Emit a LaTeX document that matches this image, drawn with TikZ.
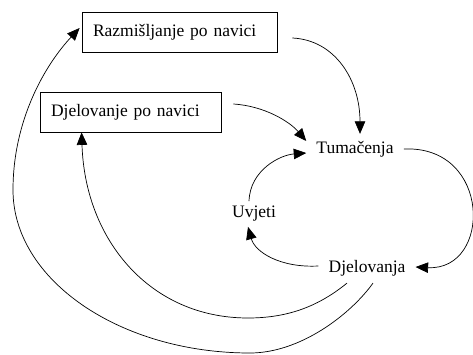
\documentclass[tikz,border=0pt]{standalone}
\usepackage{fontspec}
\setmainfont{Liberation Serif}
\usetikzlibrary{arrows.meta,calc}
\begin{document}
\begin{tikzpicture}[x=1pt,y=-1pt,
  font=\fontsize{17.5}{21}\selectfont,
  boxnode/.style={draw,line width=0.8pt,minimum height=40pt,inner xsep=11pt,align=left},
  lbl/.style={inner xsep=10pt,inner ysep=7pt},
  conn/.style={line width=0.7pt,-{Triangle[length=12.5pt,width=10.5pt]}}]
\useasboundingbox (0,0) rectangle (473,355);
\node[boxnode,text width=173pt] (r) at (179.5,32) {Razmišljanje po navici};
\node[boxnode,text width=159pt] (d) at (130.5,112) {Djelovanje po navici};
\node[lbl] (t) at (355,149) {Tumačenja};
\node[lbl,inner ysep=5pt] (u) at (254,214) {Uvjeti};
\node[lbl] (dj) at (367,268) {Djelovanja};
% Razmisljanje -> Tumacenja
\draw[conn] ($(r.east)+(15,6)$) .. controls (335,40) and (360,80) .. ([xshift=5pt]t.north);
% Djelovanje po navici -> Tumacenja
\draw[conn] ($(d.east)+(12,-8)$) .. controls (265,106) and (290,122) .. ($(t.west)+(0,-8)$);
% Tumacenja -> Djelovanja
\draw[conn] (t.east) .. controls (492,145) and (492,271) .. ($(dj.east)+(0,-1)$);
% Djelovanja -> Uvjeti
\draw[conn] ($(dj.west)+(0,-2)$) .. controls (280,268) and (255,252) .. ([xshift=-6pt]u.south);
% Uvjeti -> Tumacenja
\draw[conn] ([xshift=-5pt]u.north) .. controls (250,170) and (280,155) .. ($(t.west)+(0,4)$);
% Djelovanja -> Djelovanje po navici
\draw[conn] ([xshift=-20pt]dj.south) .. controls (320,305) and (290,318) .. (248,318)
  .. controls (150,318) and (85,240) .. ($(d.south west)+(42,0)$);
% Djelovanja -> Razmisljanje po navici
\draw[conn] ([xshift=6pt]dj.south) .. controls (350,315) and (300,353) .. (250,353)
  .. controls (120,353) and (13,280) .. (13,190)
  .. controls (13,120) and (45,65) .. ($(r.west)+(-2,-4)$);
\end{tikzpicture}
\end{document}
